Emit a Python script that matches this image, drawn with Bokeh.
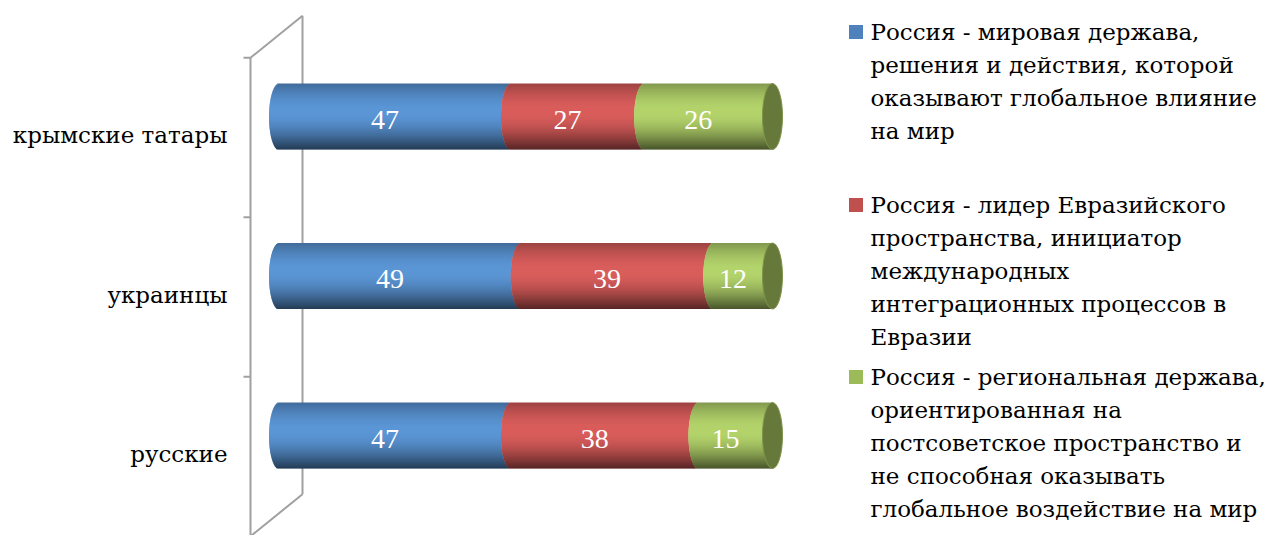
import numpy as np
from bokeh.plotting import figure
from bokeh.models import Range1d
from bokeh.embed import file_html
from bokeh.resources import INLINE
from bokeh.core.properties import value

# ---------------- data ----------------
categories = ["русские", "украинцы", "крымские татары"]          # bottom -> top
world_power = [47, 49, 47]        # Россия - мировая держава
eurasian_leader = [38, 39, 27]    # Россия - лидер Евразийского пространства
regional_power = [15, 12, 26]     # Россия - региональная держава
series_labels = [
    "Россия - мировая держава,\nрешения и действия, которой\nоказывают глобальное влияние\nна мир",
    "Россия - лидер Евразийского\nпространства, инициатор\nмеждународных\nинтеграционных процессов в\nЕвразии",
    "Россия - региональная держава,\nориентированная на\nпостсоветское пространство и\nне способная оказывать\nглобальное воздействие на мир",
]
series_values = [world_power, eurasian_leader, regional_power]

# ---------------- styling / layout ----------------
W, H = 1270, 535
TEXT_FONT = "DejaVu Serif"
NUM_FONT = "Liberation Serif"
body_colors = [(91, 150, 214), (218, 94, 92), (180, 212, 108)]
legend_colors = ["#4f81bd", "#c0504d", "#9bbb59"]
face_color = "#66793a"
wall_color = "#a0a0a0"
BASE_FIX = 11.0    # px: alphabetic baseline correction of the svg text

X0 = 278.5         # pixel of value 0
SX = 4.935         # pixels per percent
Y0 = 435.0         # pixel of the lowest category
SY = 159.5         # pixels per category


def ix(px):
    return (px - X0) / SX


def iy(py):
    return (Y0 - py) / SY


HH = 33.0 / SY     # half height of a cylinder (data units)
A = 10.0 / SX      # half width of the elliptic caps (data units)
DY = 21.0 / SY     # depth offset of the walls (vertical)

p = figure(width=W, height=H,
           x_range=Range1d(ix(0), ix(W)), y_range=Range1d(iy(H), iy(0)),
           output_backend="svg", toolbar_location=None, min_border=0,
           x_axis_location=None, y_axis_location=None)
p.grid.visible = False
p.outline_line_color = None
p.background_fill_color = "white"
p.border_fill_color = "white"

# ---------------- 3D wall of the category axis ----------------
bounds = [len(categories) - 0.5 - k for k in range(len(categories) + 1)]
front_x = ix(250)
back_x = ix(302)
p.line([back_x, back_x], [bounds[0] + DY, bounds[-1] + DY], line_color=wall_color, line_width=2)
p.line([front_x, front_x], [bounds[0] - DY, bounds[-1] - DY], line_color=wall_color, line_width=2)
p.line([front_x, back_x], [bounds[0] - DY, bounds[0] + DY], line_color=wall_color, line_width=2)
p.line([front_x, back_x], [bounds[-1] - DY, bounds[-1] + DY], line_color=wall_color, line_width=2)
tick_len = 7.0 / SX
p.segment(x0=[front_x - tick_len] * len(bounds), y0=[b - DY for b in bounds],
          x1=[front_x] * len(bounds), y1=[b - DY for b in bounds],
          line_color=wall_color, line_width=2)

# category labels
p.text(x=[ix(227)] * len(categories),
       y=[i - (29.5 - BASE_FIX) / SY for i in range(len(categories))],
       text=categories, text_align="right", text_baseline="alphabetic",
       text_font=value(TEXT_FONT), text_font_size="23px", text_color="black")


# ---------------- cylinders ----------------
def shade(t):
    pk, f0, f1 = 0.42, 0.72, 0.40
    if t < pk:
        return f0 + (1 - f0) * np.sin(np.pi / 2 * t / pk)
    return f1 + (1 - f1) * np.cos(np.pi / 2 * (t - pk) / (1 - pk))


N = 66
qs = dict(left=[], right=[], top=[], bottom=[], color=[])
lab = dict(x=[], y=[], text=[])
faces = dict(x=[], y=[])
for i in range(len(categories)):
    vals = [sv[i] for sv in series_values]
    starts = np.concatenate([[0], np.cumsum(vals)[:-1]])
    ends = np.cumsum(vals)
    for j, (s, e) in enumerate(zip(starts, ends)):
        last = j == len(vals) - 1
        for k in range(N):
            t = (k + 0.5) / N
            c = np.sqrt(max(0.0, 1 - (1 - 2 * t) ** 2))
            top = i + HH - k * 2 * HH / N
            bot = top - 2 * HH / N * (1.7 if k < N - 1 else 1.0)
            f = shade(t)
            r, g, b = [int(min(255, ch * f)) for ch in body_colors[j]]
            qs["left"].append(s - A * c)
            qs["right"].append(e if last else e - A * c)
            qs["top"].append(top)
            qs["bottom"].append(bot)
            qs["color"].append("#%02x%02x%02x" % (r, g, b))
        lab["x"].append((s + e) / 2 - A)
        lab["y"].append(i - (14.0 - BASE_FIX) / SY)
        lab["text"].append(str(vals[j]))
    faces["x"].append(ends[-1])
    faces["y"].append(i)

p.quad(left="left", right="right", top="top", bottom="bottom", color="color",
       line_color=None, source=qs)
p.ellipse(x="x", y="y", width=2 * A, height=2 * HH, fill_color=face_color,
          line_color="#7d9347", line_width=1, source=faces)
p.text(x="x", y="y", text="text", source=lab, text_align="center",
       text_baseline="alphabetic", text_font=value(NUM_FONT), text_font_size="28px",
       text_color="white")

# ---------------- legend ----------------
first_baselines = [42, 215, 387]
line_step = 33.1
leg_lines = dict(x=[], y=[], text=[])
for j, lbl in enumerate(series_labels):
    lines = lbl.split("\n")
    for n, ln in enumerate(lines):
        leg_lines["x"].append(ix(870))
        leg_lines["y"].append(iy(first_baselines[j] + n * line_step - BASE_FIX))
        leg_lines["text"].append(ln)
    p.scatter(x=[ix(855.5)], y=[iy(first_baselines[j] - 10.5)], marker="square",
              size=14, fill_color=legend_colors[j], line_color=None)
p.text(x="x", y="y", text="text", source=leg_lines, text_align="left",
       text_baseline="alphabetic", text_font=value(TEXT_FONT), text_font_size="23px",
       text_color="black")

open("out.html", "w").write(file_html(p, INLINE))
